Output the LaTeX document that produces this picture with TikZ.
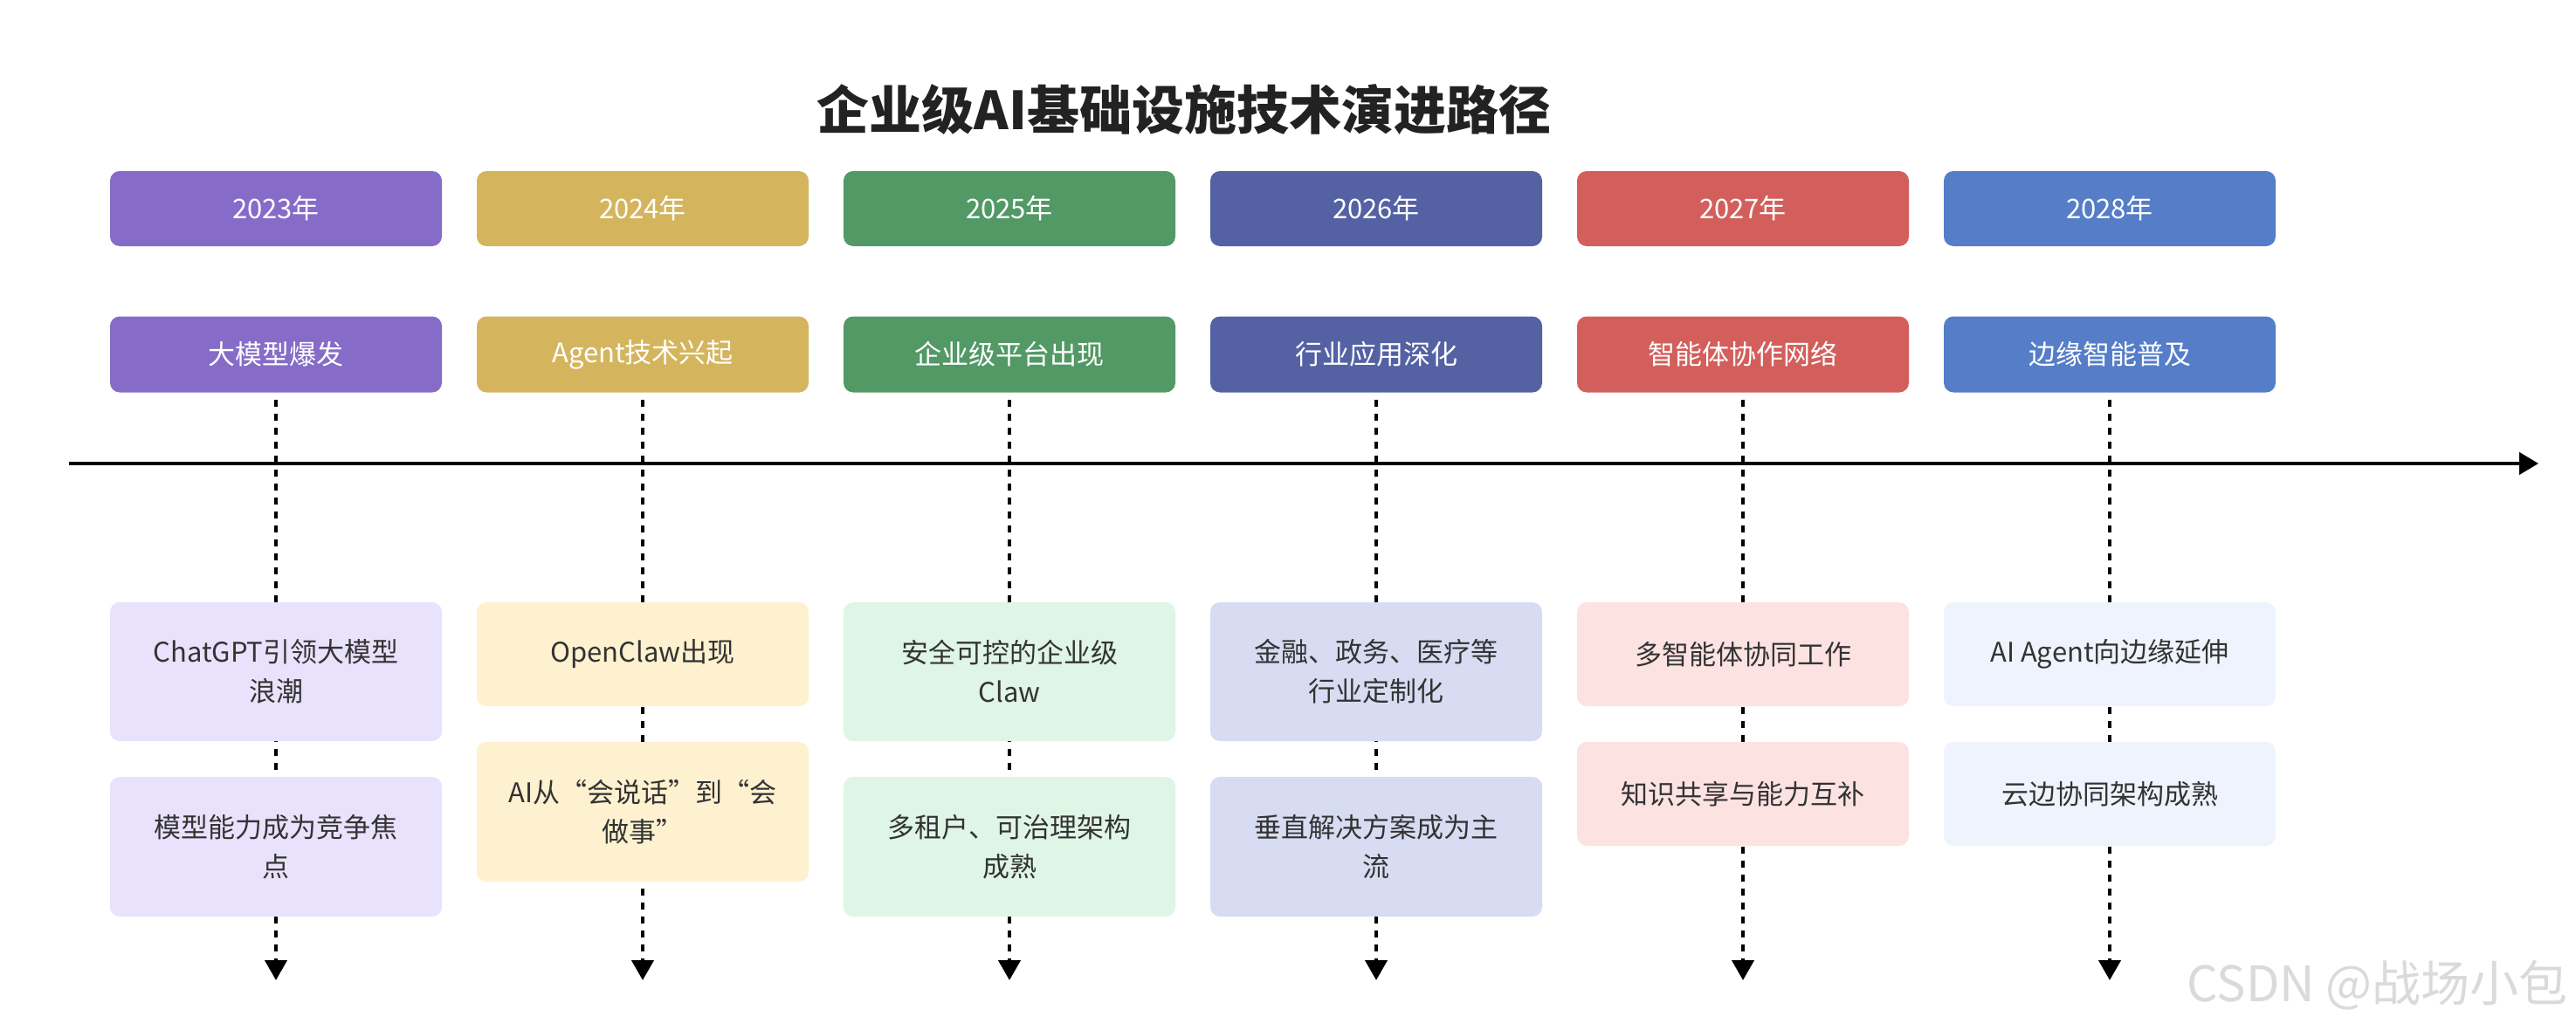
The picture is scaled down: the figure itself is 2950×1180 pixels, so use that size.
\documentclass[tikz,border=0pt]{standalone}
\usepackage{fontspec}
\setmainfont{Noto Sans CJK SC}
\newfontfamily\wmfont{Noto Sans CJK SC}
\usetikzlibrary{arrows.meta}
\definecolor{cPurple}{HTML}{866CC8}
\definecolor{cGold}{HTML}{D4B55E}
\definecolor{cGreen}{HTML}{529966}
\definecolor{cNavy}{HTML}{5462A4}
\definecolor{cRed}{HTML}{D35F5C}
\definecolor{cBlue}{HTML}{557DC8}
\definecolor{lPurple}{HTML}{E9E2FC}
\definecolor{lGold}{HTML}{FEF1CF}
\definecolor{lGreen}{HTML}{DFF5E5}
\definecolor{lNavy}{HTML}{D7DCF2}
\definecolor{lRed}{HTML}{FDE2E2}
\definecolor{lBlue}{HTML}{EEF3FD}
\definecolor{txtgray}{HTML}{333333}
\definecolor{titlegray}{HTML}{222222}
\definecolor{wmgray}{HTML}{DADADA}
\newcommand{\liftup}[1]{\raisebox{3.5pt}{#1}}
\tikzset{
  hbox/.style={rounded corners=11pt, minimum width=380pt, minimum height=86pt, inner sep=0pt,
    text=white, font=\fontsize{31}{40}\selectfont},
  litebox/.style={rounded corners=11pt, minimum width=380pt, inner sep=0pt,
    text=txtgray, align=center, font=\fontsize{31}{45}\selectfont},
  talls/.style={litebox, minimum height=159pt},
  shorts/.style={litebox, minimum height=119pt},
  dashconn/.style={line width=4.2pt, dash pattern=on 8pt off 8pt, dash phase=8pt,
    -{Triangle[length=23pt,width=25pt]}},
  axisline/.style={line width=4.3pt, -{Triangle[length=22pt,width=25pt]}},
}
\begin{document}
\begin{tikzpicture}[x=1pt,y=1pt]
\fill[white] (0,0) rectangle (2950,-1180);
\useasboundingbox (0,0) rectangle (2950,-1180);

\node[text=titlegray, font=\fontsize{60}{70}\selectfont\bfseries] (title) at (1356,-126) {企业级AI基础设施技术演进路径};

% columns
\foreach \i/\c/\l/\yr/\ph in {
  0/cPurple/lPurple/2023年/大模型爆发,
  1/cGold/lGold/2024年/Agent技术兴起,
  2/cGreen/lGreen/2025年/企业级平台出现,
  3/cNavy/lNavy/2026年/行业应用深化,
  4/cRed/lRed/2027年/智能体协作网络,
  5/cBlue/lBlue/2028年/边缘智能普及}{
  \pgfmathsetmacro{\cx}{316+420*\i}
  \node[hbox, fill=\c] (yr\i) at (\cx,-239) {\liftup{\yr}};
  \node[hbox, fill=\c, minimum height=87pt] (ph\i) at (\cx,-406) {\liftup{\ph}};
  \coordinate (end\i) at (\cx,-1123);
  \draw[dashconn] (ph\i.south) -- (end\i);
}

% axis
\coordinate (axl) at (79,-531);
\coordinate (axr) at (2907,-531);
\draw[axisline] (axl) -- (axr);

% detail boxes
\node[talls, fill=lPurple] (a0) at (316,-769.5) {ChatGPT引领大模型\\浪潮};
\node[talls, fill=lPurple, minimum height=160pt] (b0) at (316,-970) {模型能力成为竞争焦\\点};

\node[shorts, fill=lGold] (a1) at (736,-749.5) {OpenClaw出现};
\node[talls, fill=lGold, minimum height=160pt] (b1) at (736,-930) {AI从“会说话”到“会\\做事”};

\node[talls, fill=lGreen] (a2) at (1156,-769.5) {安全可控的企业级\\Claw};
\node[talls, fill=lGreen, minimum height=160pt] (b2) at (1156,-970) {多租户、可治理架构\\成熟};

\node[talls, fill=lNavy] (a3) at (1576,-769.5) {金融、政务、医疗等\\行业定制化};
\node[talls, fill=lNavy, minimum height=160pt] (b3) at (1576,-970) {垂直解决方案成为主\\流};

\node[shorts, fill=lRed] (a4) at (1996,-749.5) {多智能体协同工作};
\node[shorts, fill=lRed] (b4) at (1996,-909.5) {知识共享与能力互补};

\node[shorts, fill=lBlue] (a5) at (2416,-749.5) {AI Agent向边缘延伸};
\node[shorts, fill=lBlue] (b5) at (2416,-909.5) {云边协同架构成熟};

% watermark
\node[text=wmgray, font=\wmfont\fontsize{56}{60}\selectfont, anchor=east] (wm) at (2944,-1129) {CSDN @战场小包};
\end{tikzpicture}
\end{document}
